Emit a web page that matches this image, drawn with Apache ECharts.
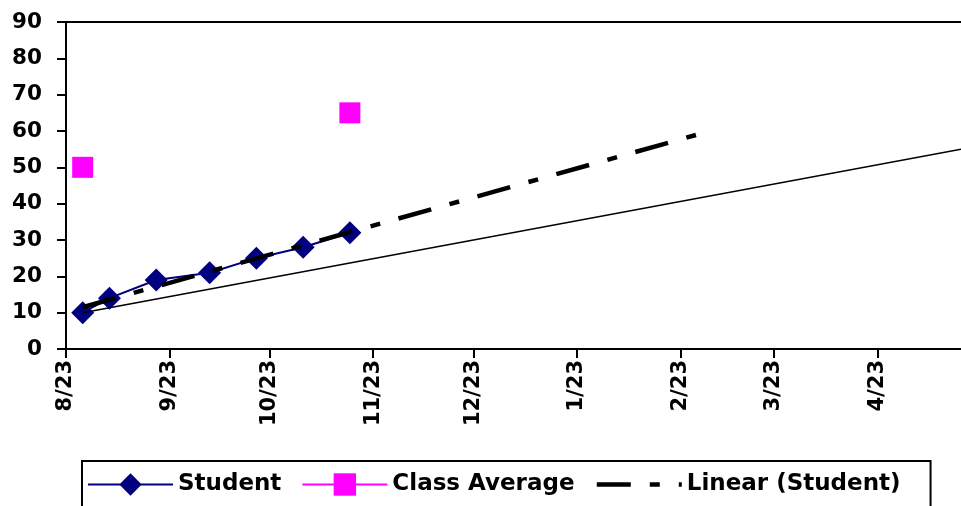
<!DOCTYPE html>
<html>
<head>
<meta charset="utf-8">
<script src="https://cdn.jsdelivr.net/npm/echarts@6/dist/echarts.min.js"></script>
<style>
html,body{margin:0;padding:0;background:#fff;}
#chart{width:961px;height:506px;}
</style>
</head>
<body>
<div id="chart"></div>
<script>
// ---- data ----
const studentDates = ['2009-08-28','2009-09-05','2009-09-19','2009-10-05','2009-10-19','2009-11-02','2009-11-16'];
const studentScores = [10, 14, 19, 21, 25, 28, 32];
const classAverage = [50, null, null, null, null, null, 65];
const trendDates = ['2009-08-28', '2010-02-28'];
const trendValues = [11.5, 59];
const aimDates = ['2009-08-28', '2010-05-18'];
const aimValues = [10, 55];
const tickDates = ['2009-08-23','2009-09-23','2009-10-23','2009-11-23','2009-12-23','2010-01-23','2010-02-23','2010-03-23','2010-04-23'];
const axisMinDate = '2009-08-23';
const axisMaxDate = '2010-05-18';

// x positions are days since axisMinDate (linear date scale)
const DAY = 86400000;
function utc(s){ const p = s.split('-').map(Number); return Date.UTC(p[0], p[1]-1, p[2]); }
function day(s){ return Math.round((utc(s) - utc(axisMinDate)) / DAY); }
function pairs(xs, ys){ return xs.map((x, i) => [day(x), ys[i]]); }
function label(v){ const d = new Date(utc(axisMinDate) + Math.round(v) * DAY); return (d.getUTCMonth()+1) + '/' + d.getUTCDate(); }

const FONT = 'DejaVu Sans';
const xTicks = tickDates.map(day);
const chart = echarts.init(document.getElementById('chart'), null, {renderer: 'canvas'});
chart.setOption({
  animation: false,
  backgroundColor: '#fff',
  grid: {left: 66, right: 0, top: 22, bottom: 157, containLabel: false},
  xAxis: [{
    type: 'value',
    min: 0,
    max: day(axisMaxDate),
    axisLine: {show: true, onZero: false, lineStyle: {color: '#000', width: 2}},
    axisTick: {show: true, length: 9, lineStyle: {color: '#000', width: 2}, customValues: xTicks},
    axisLabel: {
      show: true, rotate: 90, margin: 11, color: '#000',
      fontFamily: FONT, fontWeight: 'bold', fontSize: 21,
      customValues: xTicks,
      formatter: label
    },
    splitLine: {show: false}
  }, {
    type: 'value', position: 'top', min: 0, max: 1,
    axisLine: {show: true, onZero: false, lineStyle: {color: '#000', width: 2}},
    axisTick: {show: false}, axisLabel: {show: false}, splitLine: {show: false}
  }],
  yAxis: {
    type: 'value', min: 0, max: 90, interval: 10,
    axisLine: {show: true, onZero: false, lineStyle: {color: '#000', width: 2}},
    axisTick: {show: true, length: 9, lineStyle: {color: '#000', width: 2}},
    axisLabel: {
      margin: 24, color: '#000', fontFamily: FONT, fontWeight: 'bold', fontSize: 21.5
    },
    splitLine: {show: false}
  },
  legend: {
    data: [
      {name: 'Student'},
      {name: 'Class Average'},
      {name: 'Linear (Student)', itemStyle: {opacity: 0}, lineStyle: {width: 4.5}}
    ],
    left: 82, top: 461,
    itemWidth: 85, itemHeight: 28, itemGap: 20,
    padding: [12, 30, 30, 5],
    borderColor: '#000', borderWidth: 2,
    textStyle: {color: '#000', fontFamily: FONT, fontWeight: 'bold', fontSize: 23},
    selectedMode: false
  },
  series: [{
    name: 'Student', type: 'line',
    data: pairs(studentDates, studentScores),
    symbol: 'diamond', symbolSize: 23,
    itemStyle: {color: '#000080'},
    lineStyle: {color: '#000080', width: 2},
    z: 2
  }, {
    name: 'Class Average', type: 'line',
    data: pairs(studentDates, classAverage),
    connectNulls: false,
    symbol: 'rect', symbolSize: 21,
    itemStyle: {color: '#FF00FF'},
    lineStyle: {color: '#FF00FF', width: 2},
    z: 2
  }, {
    name: 'Linear (Student)', type: 'line',
    data: pairs(trendDates, trendValues),
    symbol: 'none',
    itemStyle: {color: '#000'},
    lineStyle: {color: '#000', width: 4.5, type: [34, 19, 10, 19], cap: 'butt'},
    z: 4
  }, {
    name: 'Aim', type: 'line',
    data: pairs(aimDates, aimValues),
    symbol: 'none',
    itemStyle: {color: '#000'},
    lineStyle: {color: '#000', width: 1.5},
    z: 3
  }]
});
</script>
</body>
</html>
